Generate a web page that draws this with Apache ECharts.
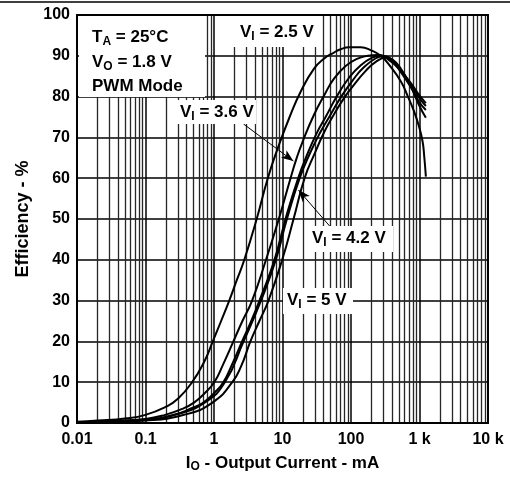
<!DOCTYPE html>
<html><head><meta charset="utf-8">
<script src="https://cdn.jsdelivr.net/npm/echarts@6/dist/echarts.min.js"></script>
<style>html,body{margin:0;padding:0;background:#fff}#c{width:510px;height:478px}</style>
</head><body><div id="c"></div>
<script>
// ---- data (I in mA, efficiency in %) ----
const vi25 = [[0.01,0.3],[0.02,0.6],[0.05,1.1],[0.1,2.0],[0.2,4.0],[0.3,6.0],[0.48,10],[0.72,15],[0.96,20],[1.27,25],[1.67,30],[2.15,35],[2.77,40],[4.2,50],[6.1,60],[8.6,67.5],[12.7,75],[18.4,81.2],[28.7,86.8],[40.3,89.3],[56.4,90.8],[70.6,91.6],[93.5,92.1],[139,92.1],[194,91.4],[272,90.0],[380,87.3],[535,83.7],[670,80.2],[836,76.3],[979,72.8],[1109,69.0],[1170,65.5],[1239,60.4]];
const vi36 = [[0.01,0.2],[0.03,0.5],[0.1,1.0],[0.194,2.0],[0.36,3.6],[0.51,5],[0.7,7],[1.01,10],[1.37,14.5],[1.92,20],[2.6,25],[3.6,30],[5.74,40],[8.83,50],[13.1,60],[16,64.8],[19.5,68.8],[28.4,75.3],[41.2,80.5],[55.8,84.3],[83.6,87.5],[125,89.3],[176,90.0],[246,90.2],[381,88.6],[535,86.2],[748,83.3],[979,80.5],[1239,78.4]];
const vi42 = [[0.01,0.15],[0.03,0.4],[0.1,0.8],[0.26,2.0],[0.5,3.8],[0.7,5],[1.0,7.3],[1.37,10],[1.85,14.5],[2.57,20],[3.5,25],[4.61,30],[7.64,40],[11.07,50],[16.9,60],[23.2,66],[31.5,71],[42.6,75],[61.8,80],[92.5,84.5],[139,87.7],[208,89.6],[272,90.1],[381,89.0],[535,86.5],[748,83],[979,79.8],[1239,77.7]];
const viX = [[0.01,0.15],[0.03,0.38],[0.1,0.75],[0.27,2.0],[0.73,5],[1.44,10],[2.7,20],[4.85,30],[8.0,40],[11.6,50],[17.8,60],[25,66],[35,71],[50,75.5],[72,80],[106,84],[150,87],[230,89.4],[300,89.9],[408,88.8],[535,86.0],[748,82.3],[979,78.8],[1239,76.7]];
const vi50 = [[0.01,0.12],[0.03,0.3],[0.1,0.6],[0.365,2.0],[0.95,5],[1.85,10],[2.5,14],[3.4,20],[4.6,25],[6.24,30],[9.9,40],[14.5,50],[21,60],[29.4,66],[41.2,71.5],[55.8,75.5],[78.2,79.5],[106,82.5],[164,86.3],[230,88.5],[322,89.5],[408,89.0],[535,86.8],[748,82.5],[979,78],[1239,74.8]];
const xTickLabels = {0.01:'0.01',0.1:'0.1',1:'1',10:'10',100:'100',1000:'1 k',10000:'10 k'};
const yTicks = [0,10,20,30,40,50,60,70,80,90,100];
const arrow36 = [[2.69,73.3],[14.4,64.2]];
const arrow42 = [[50.4,48.0],[17.1,57.1]];

// minor log grid positions
const minors = [];
[0.01,0.1,1,10,100,1000].forEach(d => { for (let k=2;k<=9;k++) minors.push(+(d*k).toPrecision(3)); });

const FONT = 'Liberation Sans, Arial, Helvetica, sans-serif';
const chart = echarts.init(document.getElementById('c'), null, {renderer:'canvas'});
const curve = (name, data) => ({
  name, type:'line', data, smooth:0.5, showSymbol:false, symbol:'none',
  lineStyle:{color:'#000', width:2}, silent:true, z:5
});
const subRich = {
  b:{fontSize:17, fontWeight:'bold', fontFamily:FONT, color:'#000'},
  s:{fontSize:12, fontWeight:'bold', fontFamily:FONT, color:'#000', padding:[9,0,0,0]}
};
function label(x, y, w, h, tx, ty, text) {
  return [
    {type:'rect', z:100, shape:{x, y, width:w, height:h}, style:{fill:'#fff'}},
    {type:'text', z:101, x:tx, y:ty, style:{text, rich:subRich, verticalAlign:'middle', align:'left'}}
  ];
}
const series = [
  curve('VI = 2.5 V', vi25),
  curve('VI = 3.6 V', vi36),
  curve('VI = 4.2 V', vi42),
  curve('VI', viX),
  curve('VI = 5 V', vi50)
];
series[0].markLine = {
  silent:true, symbol:['none','none'], label:{show:false}, animation:false,
  lineStyle:{color:'#262626', width:1.3, type:'solid'},
  data: minors.map(v => ({xAxis:v}))
};
series[1].markLine = {
  silent:true, symbol:['none','arrow'], symbolSize:[7,12], label:{show:false}, animation:false,
  lineStyle:{color:'#000', width:1, type:'solid'},
  data:[[{coord:arrow36[0]},{coord:arrow36[1]}]]
};
series[2].markLine = {
  silent:true, symbol:['none','arrow'], symbolSize:[7,12], label:{show:false}, animation:false,
  lineStyle:{color:'#000', width:1, type:'solid'},
  data:[[{coord:arrow42[0]},{coord:arrow42[1]}]]
};

chart.setOption({
  animation:false,
  backgroundColor:'#fff',
  grid:{left:77, right:22, top:15, bottom:55, show:true, borderColor:'#000', borderWidth:2, backgroundColor:'transparent', z:10},
  xAxis:{
    type:'log', logBase:10, min:0.01, max:10000, splitNumber:6,
    axisLine:{show:false}, axisTick:{show:false},
    splitLine:{show:true, lineStyle:{color:'#000', width:1.5}},
    axisLabel:{fontSize:16, fontWeight:'bold', fontFamily:FONT, color:'#000', margin:9,
      showMinLabel:true, showMaxLabel:true,
      formatter:v => { const k = Object.keys(xTickLabels).find(t => Math.abs(Math.log10(+t) - Math.log10(v)) < 1e-6); return k ? xTickLabels[k] : ''; }},
    name:'{b|I}{s|O}{b| - Output Current - mA}', nameLocation:'middle', nameGap:30,
    nameTextStyle:{rich:{
      b:{fontSize:17, fontWeight:'bold', fontFamily:FONT, color:'#000'},
      s:{fontSize:12, fontWeight:'bold', fontFamily:FONT, color:'#000', padding:[8,0,0,0]}
    }}
  },
  yAxis:{
    type:'value', min:0, max:100, interval:10,
    axisLine:{show:false}, axisTick:{show:false},
    splitLine:{show:true, lineStyle:{color:'#000', width:1.5}},
    axisLabel:{fontSize:16, fontWeight:'bold', fontFamily:FONT, color:'#000', margin:7,
      formatter:v => yTicks.includes(v) ? String(v) : ''},
    name:'Efficiency - %', nameLocation:'middle', nameGap:42, nameRotate:90,
    nameTextStyle:{fontSize:18, fontWeight:'bold', fontFamily:FONT, color:'#000'}
  },
  series,
  graphic:[
    {type:'line', z:100, shape:{x1:0, y1:2, x2:510, y2:2}, style:{stroke:'#000', lineWidth:1.5}},
    {type:'rect', z:100, shape:{x:79, y:16, width:126, height:81}, style:{fill:'#fff'}},
    {type:'text', z:101, x:92, y:37, style:{text:'{b|T}{s|A}{b| = 25°C}', rich:subRich, verticalAlign:'middle'}},
    {type:'text', z:101, x:92, y:62, style:{text:'{b|V}{s|O}{b| = 1.8 V}', rich:subRich, verticalAlign:'middle'}},
    {type:'text', z:101, x:92, y:86, style:{text:'{b|PWM Mode}', rich:subRich, verticalAlign:'middle'}},
    ...label(230, 16, 92, 31, 240, 32, '{b|V}{s|I}{b| = 2.5 V}'),
    ...label(176, 100, 80, 24, 180, 112, '{b|V}{s|I}{b| = 3.6 V}'),
    ...label(307, 226, 86, 26, 312, 238, '{b|V}{s|I}{b| = 4.2 V}'),
    ...label(283, 288, 70, 26, 287, 300, '{b|V}{s|I}{b| = 5 V}')
  ]
});
</script></body></html>
